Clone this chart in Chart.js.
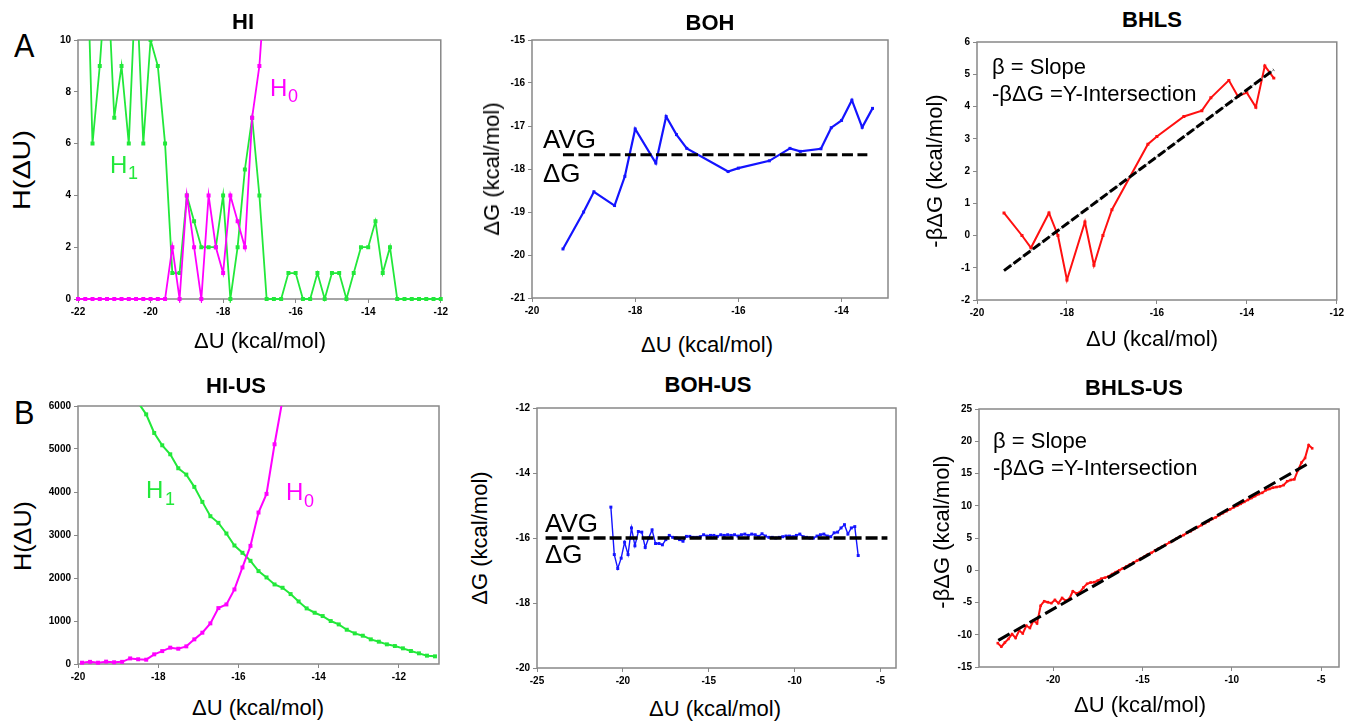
<!DOCTYPE html>
<html>
<head>
<meta charset="utf-8">
<script src="https://cdn.jsdelivr.net/npm/chart.js@4.4.0/dist/chart.umd.min.js"></script>
<style>
  body { margin: 0; background: #fff; width: 1345px; height: 727px; position: relative; overflow: hidden;
         font-family: "Liberation Sans", Arial, sans-serif; }
  canvas { position: absolute; }
  .t { position: absolute; white-space: nowrap; line-height: 1; color: #000; }
</style>
</head>
<body>
<script>
// ===== HI : histogrammes H1 / H0 =====
const hiX = [-22, -21.8, -21.6, -21.4, -21.2, -21, -20.8, -20.6, -20.4, -20.2, -20, -19.8, -19.6, -19.4, -19.2,
  -19, -18.8, -18.6, -18.4, -18.2, -18, -17.8, -17.6, -17.4, -17.2, -17, -16.8, -16.6, -16.4, -16.2, -16,
  -15.8, -15.6, -15.4, -15.2, -15, -14.8, -14.6, -14.4, -14.2, -14, -13.8, -13.6, -13.4, -13.2, -13, -12.8,
  -12.6, -12.4, -12.2, -12];
const hiH1 = [20, 16, 6, 9, 13, 7, 9, 6, 12.5, 6, 10, 9, 6, 1, 1, 4, 3, 2, 2, 2, 4, 0, 2, 5, 7, 4, 0, 0, 0, 1, 1,
  0, 0, 1, 0, 1, 1, 0, 1, 2, 2, 3, 1, 2, 0, 0, 0, 0, 0, 0, 0];
const hiH0 = [0, 0, 0, 0, 0, 0, 0, 0, 0, 0, 0, 0, 0, 2, 0, 4, 2, 0, 4, 2, 1, 4, 3, 2, 7, 9, 13];

// ===== BOH / BHLS : mêmes abscisses =====
const bohX = [-19.4, -19, -18.8, -18.4, -18.2, -18, -17.6, -17.4, -17.2, -17, -16.2, -16, -15.4, -15, -14.8,
  -14.4, -14.2, -14, -13.8, -13.6, -13.4];
const bohDG = [-19.86, -19.0, -18.53, -18.85, -18.17, -17.07, -17.86, -16.78, -17.2, -17.52, -18.06, -17.98,
  -17.81, -17.52, -17.59, -17.53, -17.04, -16.87, -16.4, -17.03, -16.59];
const bohAvgX = [-19.4, -13.5];
const bohAvgY = [-17.67, -17.67];

const bhlsY = [0.7, 0.0, -0.38, 0.7, 0.0, -1.38, 0.42, -0.92, 0.0, 0.8, 2.83, 3.07, 3.69, 3.87, 4.27, 4.81,
  4.32, 4.43, 3.98, 5.26, 4.88];
const bhlsFitX = [-19.4, -13.4];
const bhlsFitY = [-1.09, 5.14];

// ===== HI-US =====
const husX0 = [-19.9, -19.7, -19.5, -19.3, -19.1, -18.9, -18.7, -18.5, -18.3, -18.1, -17.9, -17.7, -17.5, -17.3,
  -17.1, -16.9, -16.7, -16.5, -16.3, -16.1, -15.9, -15.7, -15.5, -15.3, -15.1, -14.9, -14.7];
const husH0 = [30, 50, 30, 55, 40, 50, 130, 110, 100, 225, 300, 380, 355, 410, 573, 728, 945, 1300, 1385, 1734,
  2245, 2748, 3522, 3956, 5110, 6150, 7500];
const husX1 = [-18.7, -18.5, -18.3, -18.1, -17.9, -17.7, -17.5, -17.3, -17.1, -16.9, -16.7, -16.5, -16.3, -16.1,
  -15.9, -15.7, -15.5, -15.3, -15.1, -14.9, -14.7, -14.5, -14.3, -14.1, -13.9, -13.7, -13.5, -13.3, -13.1,
  -12.9, -12.7, -12.5, -12.3, -12.1, -11.9, -11.7, -11.5, -11.3, -11.1];
const husH1 = [6350, 6080, 5806, 5373, 5086, 4877, 4552, 4405, 4119, 3770, 3437, 3283, 3035, 2756, 2586, 2400,
  2160, 2013, 1850, 1773, 1626, 1455, 1293, 1192, 1115, 999, 921, 797, 712, 658, 573, 519, 457, 418, 364,
  302, 248, 194, 178];

// ===== BOH-US =====
const bohusX = [-20.7, -20.5, -20.3, -20.1, -19.9, -19.7, -19.5, -19.3, -19.1, -18.9, -18.7, -18.5, -18.3, -18.1,
  -17.9, -17.7, -17.5, -17.3, -17.1, -16.9, -16.7, -16.5, -16.3, -16.1, -15.9, -15.7, -15.5, -15.3, -15.1,
  -14.9, -14.7, -14.5, -14.3, -14.1, -13.9, -13.7, -13.5, -13.3, -13.1, -12.9, -12.7, -12.5, -12.3, -12.1,
  -11.9, -11.7, -11.5, -11.3, -11.1, -10.9, -10.7, -10.5, -10.3, -10.1, -9.9, -9.7, -9.5, -9.3, -9.1, -8.9,
  -8.7, -8.5, -8.3, -8.1, -7.9, -7.7, -7.5, -7.3, -7.1, -6.9, -6.7, -6.5, -6.3];
const bohusDG = [-15.05, -16.51, -16.94, -16.62, -16.13, -16.51, -15.69, -16.24, -15.8, -15.82,
  -16.29, -16.0, -15.75, -16.17, -16.17, -16.21, -16.05, -15.92, -15.98, -16.0,
  -16.05, -16.1, -15.95, -15.95, -15.98, -15.98, -15.96, -15.9, -15.94, -15.92,
  -15.92, -15.95, -15.9, -15.92, -15.9, -15.92, -15.9, -15.94, -15.9, -15.88,
  -15.92, -15.88, -15.9, -15.95, -15.87, -15.94, -15.98, -15.98, -16.0, -15.98,
  -15.96, -15.94, -15.94, -15.96, -15.92, -15.88, -15.96, -15.98, -16.0, -16.0,
  -15.94, -15.9, -15.88, -15.94, -15.96, -15.84, -15.82, -15.69, -15.59, -15.88,
  -15.69, -15.65, -16.54];
const bohusAvgX = [-24.5, -4.6];
const bohusAvgY = [-16.0, -16.0];

// ===== BHLS-US =====
const bhlsusX = [-23.1, -22.9, -22.7, -22.5, -22.3, -22.1, -21.9, -21.7, -21.5, -21.3, -21.1, -20.9,
  -20.7, -20.5, -20.3, -20.1, -19.9, -19.7, -19.5, -19.3, -19.1, -18.9, -18.7, -18.5, -18.3, -18.1,
  -17.9, -17.7, -17.5, -17.3, -17.1, -16.9, -16.7, -16.5, -16.3, -16.1, -15.9, -15.7, -15.5, -15.3, -15.1,
  -14.9, -14.7, -14.5, -14.3, -14.1, -13.9, -13.7, -13.5, -13.3, -13.1, -12.9, -12.7, -12.5, -12.3, -12.1,
  -11.9, -11.7, -11.5, -11.3, -11.1, -10.9, -10.7, -10.5, -10.3, -10.1, -9.9, -9.7, -9.5, -9.3, -9.1, -8.9,
  -8.7, -8.5, -8.3, -8.1, -7.9, -7.7, -7.5, -7.3, -7.1, -6.9, -6.7, -6.5, -6.3, -6.1, -5.9, -5.7, -5.5];
const bhlsusY = [-11.3, -11.85, -11.2, -10.65, -9.9, -10.5, -9.35, -9.8, -8.6, -8.95,
  -7.8, -8.25, -5.5, -4.8, -4.95, -5.1, -4.6, -5.1, -4.3, -4.7,
  -4.45, -3.25, -3.6, -3.4, -2.65, -2.1, -1.9, -1.85, -1.6, -1.3,
  -1.15, -0.95, -0.6, -0.3, 0.0, 0.3, 0.6, 0.9, 1.2, 1.5,
  1.8, 2.1, 2.45, 2.7, 3.05, 3.35, 3.65, 3.95, 4.3, 4.55,
  4.9, 5.2, 5.45, 5.8, 6.05, 6.4, 6.7, 7.0, 7.3, 7.6,
  7.95, 8.2, 8.55, 8.85, 9.15, 9.45, 9.75, 10.0, 10.3, 10.6,
  10.9, 11.2, 11.5, 11.8, 12.0, 12.4, 12.6, 12.8, 12.9, 13.0,
  13.2, 13.8, 14.0, 14.1, 15.5, 16.7, 17.4, 19.4, 18.9];
const bhlsusFitX = [-23.07, -5.65];
const bhlsusFitY = [-10.87, 16.66];

// === Couleurs ===
const GREEN = '#22e83a', MAGENTA = '#ff00ff', BLUE = '#1414ff', RED = '#ff1010';

// === Zone de tracé de chaque panneau (px dans la page) ===
const boxes = {
  hi:     { L: 78,  T: 40,  R: 441,  B: 299 },
  boh:    { L: 532, T: 40,  R: 888,  B: 298 },
  bhls:   { L: 977, T: 42,  R: 1337, B: 300 },
  hius:   { L: 78,  T: 406, R: 439,  B: 664 },
  bohus:  { L: 537, T: 408, R: 896,  B: 668 },
  bhlsus: { L: 979, T: 409, R: 1339, B: 667 }
};
const YW = 40, XH = 26, PAD_T = 10, PAD_R = 10;

Chart.defaults.font.family = '"Liberation Sans", Arial, sans-serif';

// cadre gris autour de la zone de tracé
const framePlugin = {
  id: 'frame',
  beforeDatasetsDraw(chart) {
    const { ctx, chartArea: a } = chart;
    ctx.save();
    ctx.strokeStyle = '#888';
    ctx.lineWidth = 1.5;
    ctx.strokeRect(a.left, a.top, a.right - a.left, a.bottom - a.top);
    ctx.restore();
  }
};

function axis(min, max, step, isX) {
  return {
    type: 'linear', min, max,
    afterFit: s => { if (isX) s.height = XH; else s.width = YW; },
    border: { display: false },
    grid: { drawOnChartArea: false, drawTicks: true, tickLength: 4, color: '#888' },
    ticks: {
      stepSize: step, includeBounds: false, autoSkip: false, maxRotation: 0, padding: 3,
      color: '#000', font: { size: 10, weight: 'bold' },
      callback: v => String(v)
    }
  };
}

function series(xs, ys, color, width, radius) {
  return {
    data: ys.map((y, i) => ({ x: xs[i], y })),
    borderColor: color, backgroundColor: color, borderWidth: width,
    pointStyle: 'rect', pointRadius: radius, pointBorderWidth: 0, tension: 0,
    clip: { left: 4, right: 4, top: 0, bottom: 4 }
  };
}

function dashed(xs, ys, dash, width, color) {
  return {
    data: ys.map((y, i) => ({ x: xs[i], y })),
    borderColor: color || '#000', borderWidth: width, borderDash: dash || [],
    pointRadius: 0, tension: 0, clip: 0
  };
}

function makePanel(box, xs, ys, datasets) {
  const c = document.createElement('canvas');
  const w = box.R - box.L + YW + PAD_R, h = box.B - box.T + PAD_T + XH;
  c.width = w; c.height = h;
  c.style.width = w + 'px'; c.style.height = h + 'px';
  c.style.left = (box.L - YW) + 'px';
  c.style.top = (box.T - PAD_T) + 'px';
  document.body.appendChild(c);
  return new Chart(c, {
    type: 'line',
    data: { datasets },
    options: {
      responsive: false, animation: false, events: [],
      layout: { padding: { top: PAD_T, right: PAD_R, left: 0, bottom: 0 }, autoPadding: false },
      plugins: { legend: { display: false }, tooltip: { enabled: false } },
      scales: { x: axis(xs[0], xs[1], xs[2], true), y: axis(ys[0], ys[1], ys[2], false) }
    },
    plugins: [framePlugin]
  });
}

// === Textes (titres, axes, annotations) ===
function addText(str, x, baseline, size, opts = {}) {
  const el = document.createElement('div');
  el.className = 't';
  el.textContent = str;
  el.style.fontSize = size + 'px';
  el.style.fontWeight = opts.bold ? 'bold' : 'normal';
  el.style.color = opts.color || '#000';
  el.style.left = x + 'px';
  el.style.top = (baseline - 0.8465 * size) + 'px';
  let tr = '';
  if (opts.center) tr += 'translateX(-50%) ';
  if (opts.sx) { tr += `scaleX(${opts.sx})`; el.style.transformOrigin = 'left center'; }
  if (tr) el.style.transform = tr;
  document.body.appendChild(el);
}

function addVText(str, cx, cy, size, stretch) {
  const el = document.createElement('div');
  el.className = 't';
  el.textContent = str;
  el.style.fontSize = size + 'px';
  el.style.left = cx + 'px';
  el.style.top = cy + 'px';
  el.style.transform = `translate(-50%, -50%) rotate(-90deg) scaleX(${stretch || 1})`;
  document.body.appendChild(el);
}

// --- Panneau HI
makePanel(boxes.hi, [-22, -12, 2], [0, 10, 2], [
  series(hiX.slice(0, hiH0.length), hiH0, MAGENTA, 1.8, 2.8),
  series(hiX, hiH1, GREEN, 1.8, 2.8)
]);

// --- Panneau BOH
makePanel(boxes.boh, [-20, -13.1, 2], [-21, -15, 1], [
  dashed(bohAvgX, bohAvgY, [11, 4.5], 3),
  series(bohX, bohDG, BLUE, 2.2, 2.1)
]);

// --- Panneau BHLS
makePanel(boxes.bhls, [-20, -12, 2], [-2, 6, 1], [
  dashed(bhlsFitX, bhlsFitY, [9, 3], 3),
  dashed(bhlsFitX, bhlsFitY, null, 1, '#999'),
  series(bohX, bhlsY, RED, 2, 2.1)
]);

// --- Panneau HI-US
makePanel(boxes.hius, [-20, -11, 2], [0, 6000, 1000], [
  series(husX0, husH0, MAGENTA, 2, 2.8),
  series(husX1, husH1, GREEN, 2, 2.8)
]);

// --- Panneau BOH-US
makePanel(boxes.bohus, [-25, -4.1, 5], [-20, -12, 2], [
  dashed(bohusAvgX, bohusAvgY, [12, 4], 3.5),
  series(bohusX, bohusDG, BLUE, 1.4, 2.1)
]);

// --- Panneau BHLS-US
makePanel(boxes.bhlsus, [-24.15, -4, 5], [-15, 25, 5], [
  dashed(bhlsusFitX, bhlsusFitY, [13, 5], 3),
  series(bhlsusX, bhlsusY, RED, 2, 1.8)
]);

// lettres A / B
addText('A', 14, 57, 34, { sx: 0.9 });
addText('B', 14, 424, 34, { sx: 0.9 });

// titres des panneaux
addText('HI', 243, 30, 22, { bold: true, center: true });
addText('BOH', 710, 31, 22, { bold: true, center: true });
addText('BHLS', 1152, 28, 22, { bold: true, center: true });
addText('HI-US', 236, 394, 22, { bold: true, center: true });
addText('BOH-US', 708, 393, 22, { bold: true, center: true });
addText('BHLS-US', 1134, 396, 22, { bold: true, center: true });

// titres des axes X
addText('ΔU (kcal/mol)', 260, 349, 22, { center: true });
addText('ΔU (kcal/mol)', 707, 353, 22, { center: true });
addText('ΔU (kcal/mol)', 1152, 347, 22, { center: true });
addText('ΔU (kcal/mol)', 258, 716, 22, { center: true });
addText('ΔU (kcal/mol)', 715, 717, 22, { center: true });
addText('ΔU (kcal/mol)', 1140, 713, 22, { center: true });

// titres des axes Y
addVText('H(ΔU)', 22, 170, 24, 1.2);
addVText('H(ΔU)', 23, 536, 24, 1.05);
addVText('ΔG (kcal/mol)', 492, 169, 22);
addVText('-βΔG (kcal/mol)', 935, 171, 22);
addVText('ΔG (kcal/mol)', 480, 538, 22);
addVText('-βΔG (kcal/mol)', 942, 532, 22);

// étiquettes des courbes
addText('H', 270, 96, 24, { color: MAGENTA });
addText('0', 288, 102, 18, { color: MAGENTA });
addText('H', 110, 173, 24, { color: GREEN });
addText('1', 128, 179, 18, { color: GREEN });
addText('H', 146, 498, 24, { color: GREEN });
addText('1', 165, 505, 18, { color: GREEN });
addText('H', 286, 500, 24, { color: MAGENTA });
addText('0', 304, 507, 18, { color: MAGENTA });

// moyennes et régressions
addText('AVG', 543, 148, 26);
addText('ΔG', 543, 182, 26);
addText('AVG', 545, 532, 26);
addText('ΔG', 545, 563, 26);
addText('β = Slope', 992, 75, 22);
addText('-βΔG =Y-Intersection', 992, 102, 22);
addText('β = Slope', 993, 449, 22);
addText('-βΔG =Y-Intersection', 993, 476, 22);
</script>
</body>
</html>
